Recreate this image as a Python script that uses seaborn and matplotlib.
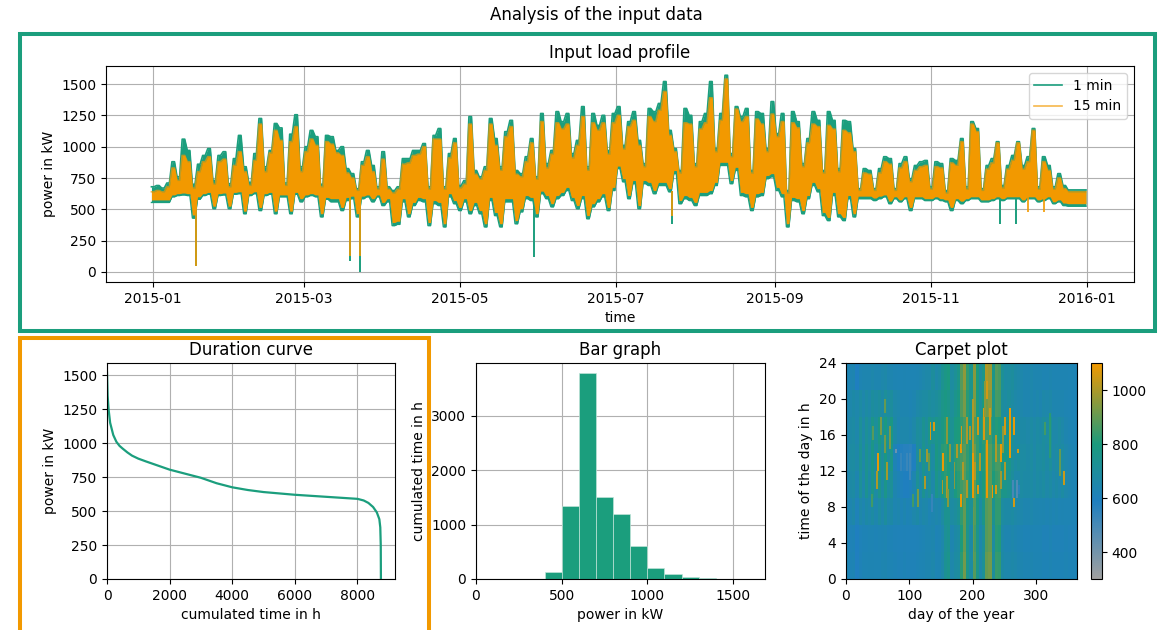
import numpy as np
import pandas as pd
import seaborn as sns
import matplotlib.pyplot as plt
import matplotlib.dates as mdates
from matplotlib.colors import LinearSegmentedColormap
from matplotlib.patches import Rectangle

TEAL = "#1b9e7d"
ORANGE = "#f29900"
W, H = 1163, 630

high_1min = [
    680, 690, 670, 710, 880, 760, 1060, 970, 700, 860, 930, 985, 730, 930, 960, 705, 905, 1090, 840, 715,
    945, 1225, 840, 970, 1185, 1150, 710, 1100, 1255, 840, 1000, 1130, 1080, 700, 1090, 1080,
    970, 1000, 825, 785, 665, 880, 970, 850, 680, 960, 680, 650, 680, 905, 905, 970, 970, 1025, 680, 1090,
    1145, 680, 945, 1065, 690, 730, 1240, 810, 760, 840, 1225, 1065, 840, 1120, 1210, 810,
    785, 920, 1065, 760, 1265, 865, 970, 1280, 1200, 1265, 945, 1050, 1320, 840, 1265, 1170, 1250, 970, 1265, 1320,
    1010, 1200, 1280, 1050, 865, 1305, 1280, 1345, 1520, 1130, 985, 810, 1305, 1250, 865, 1200,
    1265, 1520, 985, 1265, 1570, 945, 1320, 1240, 1305, 810, 1280, 1265, 985, 1360, 1105, 1265, 650, 1280, 1200, 865,
    1065, 1280, 1210, 810, 1280, 1210, 825, 1210, 1200, 985, 665, 825, 810, 665, 825, 920,
    905, 665, 865, 920, 745, 850, 880, 890, 680, 880, 865, 650, 905, 890, 1065, 680, 1200, 1145, 665, 850,
    905, 1040, 690, 850, 930, 1040, 850, 920, 1145, 680, 920, 850, 680, 785, 690, 655, 655, 655, 655,
]
low_1min = [
    555, 555, 555, 555, 600, 610, 615, 610, 430, 580, 610, 620, 505, 610, 615, 505, 620, 625, 465, 610,
    625, 490, 610, 620, 465, 600, 600, 465, 620, 560, 600, 610, 600, 440, 580, 560,
    560, 490, 570, 585, 440, 585, 600, 560, 600, 530, 560, 370, 380, 560, 440, 530, 570, 560, 370, 545,
    530, 360, 600, 545, 490, 560, 465, 530, 465, 360, 570, 450, 360, 560, 560, 385,
    480, 585, 570, 440, 625, 585, 520, 585, 610, 650, 570, 505, 585, 425, 520, 560, 600, 490, 650, 825,
    720, 585, 705, 505, 705, 690, 625, 690, 690, 640, 785, 545, 585, 570, 530, 610,
    610, 625, 690, 850, 850, 705, 810, 610, 600, 490, 600, 610, 745, 760, 650, 600, 360, 570, 560, 465,
    585, 690, 640, 450, 410, 610, 440, 410, 585, 440, 585, 585, 585, 570, 585, 600,
    545, 585, 560, 585, 490, 585, 585, 570, 570, 585, 570, 560, 490, 570, 545, 570, 585, 585, 560, 560,
    570, 585, 570, 585, 585, 585, 560, 585, 585, 560, 570, 585, 545, 560, 530, 525, 525, 525, 525,
]
high_15min = [
    640, 650, 640, 680, 830, 730, 930, 880, 670, 800, 880, 920, 700, 880, 900, 680, 850, 960, 800, 690,
    890, 1180, 800, 950, 1130, 1050, 690, 1040, 1160, 800, 960, 1060, 1010, 680, 1040, 1020,
    950, 930, 790, 750, 650, 850, 920, 800, 660, 900, 660, 630, 660, 860, 870, 930, 940, 1000, 660, 1060,
    1060, 660, 910, 1030, 670, 700, 1180, 780, 740, 810, 1180, 1010, 810, 1080, 1160, 780,
    760, 880, 1030, 740, 1200, 830, 940, 1190, 1140, 1180, 910, 1010, 1240, 810, 1190, 1130, 1190, 940, 1190, 1250,
    980, 1160, 1210, 1010, 840, 1240, 1200, 1290, 1440, 1090, 960, 790, 1190, 1180, 840, 1140,
    1190, 1390, 960, 1210, 1540, 920, 1300, 1200, 1240, 790, 1220, 1180, 960, 1260, 1080, 1200, 630, 1190, 1150, 840,
    1030, 1180, 1160, 790, 1170, 1140, 800, 1130, 1110, 960, 650, 790, 780, 650, 790, 880,
    860, 650, 830, 880, 720, 810, 840, 850, 660, 840, 830, 630, 870, 850, 1040, 660, 1180, 1120, 650, 820,
    870, 1030, 670, 820, 890, 1030, 820, 880, 1130, 660, 880, 810, 660, 750, 665, 640, 640, 640, 640,
]
low_15min = [
    575, 575, 575, 575, 615, 625, 630, 625, 455, 600, 625, 635, 525, 625, 630, 525, 635, 640, 485, 625,
    640, 515, 625, 635, 485, 615, 615, 485, 635, 585, 615, 625, 615, 465, 595, 585,
    585, 515, 595, 605, 465, 605, 615, 585, 615, 555, 585, 395, 405, 585, 465, 555, 595, 585, 395, 570,
    555, 385, 625, 570, 515, 585, 490, 555, 490, 385, 595, 475, 385, 585, 585, 410,
    505, 610, 595, 465, 645, 610, 545, 610, 635, 675, 595, 530, 610, 450, 545, 585, 625, 515, 675, 845,
    745, 610, 730, 530, 730, 715, 650, 715, 715, 665, 810, 570, 610, 595, 555, 635,
    635, 650, 715, 875, 875, 730, 835, 635, 625, 515, 625, 635, 770, 785, 675, 625, 385, 595, 585, 490,
    610, 715, 665, 475, 435, 635, 465, 435, 610, 465, 605, 605, 605, 590, 605, 615,
    565, 600, 575, 600, 515, 600, 600, 585, 585, 600, 585, 575, 515, 585, 565, 585, 600, 600, 575, 575,
    585, 600, 585, 600, 600, 600, 575, 600, 600, 575, 585, 600, 560, 575, 550, 545, 545, 545, 545,
]
# short drops that do not fit the two day sampling
dip_days_1min = [17, 77, 81, 149, 203, 331, 337]
dip_values_1min = [45, 85, 0, 120, 385, 380, 380]
dip_days_15min = [17, 77, 81, 203, 342, 348]
dip_values_15min = [45, 130, 130, 450, 480, 480]

# duration curve
duration_hours = [0, 20, 50, 100, 200, 300, 400, 500, 650, 800, 1000, 1250, 1500, 2000, 2500, 3000, 3500, 4000, 4500,
                  5000, 6000, 7000, 8000, 8200, 8350, 8500, 8620, 8700, 8730, 8745, 8750]
duration_power = [1520, 1350, 1250, 1150, 1060, 1010, 980, 960, 932, 908, 886, 865, 845, 805, 775, 745, 705, 675, 655,
                  640, 620, 605, 590, 578, 560, 530, 490, 440, 380, 250, 0]

# bar graph
bin_edges = [0, 100, 200, 300, 400, 500, 600, 700, 800, 900, 1000, 1100, 1200, 1300, 1400, 1500, 1600]
bin_hours = [1, 0, 0, 1, 122, 1342, 3780, 1507, 1188, 606, 196, 98, 37, 18, 4, 1]

# carpet plot, background: one row per 3 h of the day, one value per 5 days
carpet_0 = [625, 620, 625, 585, 615, 625, 625, 630, 630, 625, 625, 635, 640, 625, 625, 620, 615, 615, 620, 615,
            615, 615, 620, 625, 630, 640, 640, 650, 625, 630, 660, 730, 750, 650, 680, 690, 820, 920, 760, 680,
            880, 760, 660, 720, 900, 920, 700, 840, 830, 670, 650, 650, 660, 650, 640, 640, 630, 630, 640, 630,
            630, 630, 620, 620, 630, 620, 620, 620, 620, 625, 620, 620, 620]
carpet_3 = [620, 615, 620, 590, 610, 620, 620, 625, 625, 620, 625, 630, 635, 620, 620, 615, 610, 610, 615, 610,
            610, 610, 615, 620, 625, 635, 635, 645, 620, 625, 650, 720, 740, 640, 670, 680, 800, 900, 750, 670,
            860, 750, 650, 710, 880, 900, 690, 820, 810, 660, 640, 640, 650, 640, 630, 630, 620, 620, 630, 625,
            625, 625, 615, 615, 625, 615, 615, 615, 615, 620, 615, 615, 615]
carpet_6 = [630, 640, 660, 610, 660, 635, 670, 650, 680, 645, 690, 650, 700, 650, 670, 635, 645, 620, 640, 620,
            625, 650, 670, 640, 660, 650, 625, 640, 650, 640, 680, 740, 740, 680, 700, 730, 830, 900, 770, 720,
            880, 780, 680, 760, 880, 900, 740, 830, 830, 690, 670, 670, 680, 660, 650, 650, 640, 640, 650, 640,
            640, 635, 640, 630, 640, 625, 635, 625, 630, 625, 625, 620, 620]
carpet_9 = [640, 670, 680, 640, 720, 650, 740, 670, 760, 680, 750, 680, 760, 690, 720, 640, 620, 600, 590, 590,
            600, 640, 720, 660, 740, 680, 720, 660, 760, 710, 790, 820, 800, 720, 790, 820, 850, 880, 820, 770,
            900, 810, 730, 800, 880, 890, 800, 840, 850, 760, 760, 740, 700, 660, 660, 680, 670, 670, 680, 660,
            680, 670, 690, 660, 680, 650, 670, 650, 680, 650, 640, 630, 625]
carpet_12 = [640, 680, 690, 660, 730, 660, 740, 690, 770, 690, 760, 700, 780, 700, 760, 620, 590, 580, 570, 570,
             560, 590, 700, 670, 750, 700, 730, 680, 780, 740, 820, 830, 800, 740, 820, 840, 860, 890, 830, 780,
             910, 830, 760, 810, 900, 880, 820, 860, 860, 780, 780, 760, 710, 680, 700, 680, 680, 670, 690, 660,
             690, 680, 700, 670, 710, 660, 680, 670, 680, 650, 640, 630, 625]
carpet_15 = [640, 670, 680, 650, 720, 660, 720, 680, 760, 710, 780, 720, 790, 720, 780, 670, 640, 650, 650, 650,
             640, 660, 700, 690, 740, 700, 760, 730, 760, 740, 780, 810, 790, 730, 790, 800, 830, 860, 810, 760,
             860, 830, 750, 830, 850, 850, 770, 810, 790, 730, 740, 760, 720, 680, 680, 670, 670, 660, 680, 660,
             680, 670, 700, 680, 720, 660, 660, 680, 660, 640, 630, 625, 620]
carpet_18 = [640, 650, 670, 650, 680, 650, 680, 660, 700, 680, 700, 670, 710, 680, 700, 660, 650, 640, 640, 640,
             630, 640, 660, 670, 680, 680, 700, 690, 700, 720, 760, 780, 760, 710, 750, 780, 870, 930, 820, 750,
             940, 790, 710, 790, 920, 950, 760, 860, 850, 700, 680, 700, 680, 660, 650, 650, 640, 640, 650, 640,
             650, 640, 660, 650, 660, 640, 640, 640, 640, 630, 625, 620, 620]
carpet_21 = [630, 630, 640, 590, 630, 640, 640, 640, 650, 640, 640, 650, 660, 640, 640, 630, 625, 625, 630, 625,
             625, 625, 630, 640, 650, 660, 660, 700, 660, 680, 740, 770, 790, 690, 720, 760, 880, 960, 830, 750,
             950, 800, 700, 760, 1000, 980, 760, 880, 860, 720, 680, 690, 700, 670, 660, 650, 640, 640, 650, 640,
             640, 640, 630, 630, 640, 630, 630, 630, 630, 630, 625, 625, 620]

# narrow streaks on top of that background
streak_days = [47, 49, 60, 54, 68, 60, 63, 41, 40, 132, 138, 126, 124, 112, 105, 115, 130,
               152, 158, 158, 151, 163, 170, 174, 180, 180, 183, 190, 190, 181, 194, 199, 199, 200, 207, 207,
               216, 222, 222, 230, 236, 243, 243, 250, 250, 258, 264, 264, 270, 313, 321, 337, 343,
               160, 210, 226, 236, 246, 203, 218, 78, 95, 100, 85, 134, 262, 268, 272]
streak_from = [10.4, 12.3, 18.6, 16, 14.5, 14, 11, 15.5, 8, 15.6, 16.5, 13, 10, 8, 8, 13, 12,
               12.3, 15, 9, 9.5, 13, 10, 13.5, 14, 8, 11, 15, 9, 14.5, 15.5, 9, 14, 2, 16, 9.5,
               15.6, 9.3, 20, 9, 9.7, 13, 10, 16, 11.3, 13.5, 16, 8, 14, 16, 13.5, 11.5, 10.6,
               8, 12, 16, 13, 14, 11, 18, 14.3, 12, 11, 12, 7.5, 9, 9, 9.5]
streak_to = [12, 14.1, 20.4, 18, 17, 16, 13, 17, 9.5, 17.5, 17.5, 14.5, 11.5, 10.4, 9.5, 14.5, 14,
             14.3, 18, 11.5, 11, 15, 13, 15, 15, 9.5, 13, 18, 11, 17, 17, 14, 20, 8, 18, 10.5,
             19, 15.6, 22, 10.8, 10.8, 15, 12, 18, 13, 19, 18, 9.3, 14.5, 17.5, 18.5, 14.7, 12,
             10, 14, 19, 16, 17, 13, 22, 14.8, 14, 14, 14, 9.6, 11, 11, 10.5]
streak_power = [1000, 1080, 900, 930, 930, 920, 990, 880, 850, 1060, 1060, 980, 1000, 930, 850, 900, 900,
                1090, 950, 1000, 1000, 950, 950, 1000, 1090, 1090, 1000, 1000, 1000, 1050, 1000, 1090, 1000, 900, 1050, 1060,
                1060, 1090, 1050, 1090, 1060, 1090, 980, 1050, 1000, 1090, 1080, 1050, 1050, 850, 820, 900, 1040,
                950, 1000, 1050, 1000, 950, 1000, 950, 420, 530, 520, 540, 540, 500, 480, 560]

day_ticks = [0, 100, 200, 300]
hour_ticks = [0, 4, 8, 12, 16, 20, 24]


def px_axes(fig, left, top, right, bottom):
    return fig.add_axes([left / W, 1 - bottom / H, (right - left) / W, (bottom - top) / H])


def band_edge(values):
    # each reading holds for one day, so neighbours join with a steep flank
    return np.repeat(values, 2)


fig = plt.figure(figsize=(W / 100, H / 100), dpi=100)
fig.text(596 / W, 1 - 15 / H, "Analysis of the input data", ha="center", va="center", fontsize=12)

# frames around the first two plots
fig.add_artist(Rectangle((20 / W, 1 - 331 / H), 1135 / W, 297 / H, transform=fig.transFigure,
                         fill=False, edgecolor=TEAL, linewidth=2.9))
fig.add_artist(Rectangle((20 / W, 1 - 650 / H), 409 / W, 312 / H, transform=fig.transFigure,
                         fill=False, edgecolor=ORANGE, linewidth=2.9))

# load profile
ax = px_axes(fig, 106, 66, 1134, 282)
dates = pd.date_range("2015-01-01", periods=len(high_1min), freq="2D")
edge_dates = pd.DatetimeIndex(np.column_stack([dates - pd.Timedelta(hours=12),
                                               dates + pd.Timedelta(hours=12)]).ravel())
ax.fill_between(edge_dates, band_edge(low_1min), band_edge(high_1min), color=TEAL, linewidth=0, zorder=2)
sns.lineplot(x=edge_dates, y=band_edge(high_1min), ax=ax, color=TEAL, linewidth=1.2, estimator=None, label="1 min")
sns.lineplot(x=edge_dates, y=band_edge(low_1min), ax=ax, color=TEAL, linewidth=1, estimator=None)
ax.vlines(pd.Timestamp("2015-01-01") + pd.to_timedelta(dip_days_1min, unit="D"), dip_values_1min, 650,
          color=TEAL, linewidth=1.4, zorder=2)
ax.fill_between(edge_dates, band_edge(low_15min), band_edge(high_15min), color=ORANGE, linewidth=0, zorder=2.2)
sns.lineplot(x=edge_dates, y=band_edge(high_15min), ax=ax, color=ORANGE, linewidth=1.2, alpha=0.7, estimator=None,
             label="15 min", zorder=2.3)
ax.vlines(pd.Timestamp("2015-01-01") + pd.to_timedelta(dip_days_15min, unit="D"), dip_values_15min, 650,
          color=ORANGE, linewidth=1.2, zorder=2.2)
ax.set_xlim(pd.Timestamp("2014-12-13 18:00"), pd.Timestamp("2016-01-19 06:00"))
ax.set_ylim(-80, 1644)
ax.xaxis.set_major_locator(mdates.MonthLocator(interval=2))
ax.xaxis.set_major_formatter(mdates.DateFormatter("%Y-%m"))
ax.set_title("Input load profile")
ax.set_xlabel("time")
ax.set_ylabel("power in kW")
ax.grid(True)
ax.legend(loc="upper right")

# duration curve
ax = px_axes(fig, 107, 363, 395, 579)
sns.lineplot(x=duration_hours, y=duration_power, ax=ax, color=TEAL, linewidth=1.6, estimator=None, sort=False)
ax.set_xlim(0, 9200)
ax.set_ylim(0, 1590)
ax.set_yticks([0, 250, 500, 750, 1000, 1250, 1500])
ax.set_title("Duration curve")
ax.set_xlabel("cumulated time in h")
ax.set_ylabel("power in kW")
ax.grid(True)

# bar graph
ax = px_axes(fig, 476, 363, 765, 579)
centers = [(a + b) / 2 for a, b in zip(bin_edges[:-1], bin_edges[1:])]
sns.histplot(x=centers, weights=bin_hours, bins=bin_edges, ax=ax, color=TEAL, alpha=1,
             edgecolor="#bfe3d8", linewidth=0.5)
ax.set_xlim(0, 1687)
ax.set_ylim(0, 3970)
ax.set_xticks([0, 500, 1000, 1500])
ax.set_yticks([0, 1000, 2000, 3000])
ax.set_title("Bar graph")
ax.set_xlabel("power in kW")
ax.set_ylabel("cumulated time in h")
ax.set_axisbelow(True)
ax.grid(True)

# carpet plot
ax = px_axes(fig, 846, 363, 1077, 579)
cax = px_axes(fig, 1091, 363, 1102, 579)
carpet_cmap = LinearSegmentedColormap.from_list(
    "carpet", [(0, "#a0a0a0"), (0.36, "#1f7fbf"), (0.625, "#1b9a7d"), (1, ORANGE)])
background = np.array([carpet_0, carpet_3, carpet_6, carpet_9, carpet_12, carpet_15, carpet_18, carpet_21])
carpet = np.repeat(np.repeat(background, 6, axis=0), 5, axis=1)  # half hour x day grid
for day, start, stop, power in zip(streak_days, streak_from, streak_to, streak_power):
    carpet[int(start * 2):int(stop * 2), day:day + 3] = power
sns.heatmap(carpet, ax=ax, cbar_ax=cax, cmap=carpet_cmap, vmin=300, vmax=1100,
            xticklabels=False, yticklabels=False)
ax.set_ylim(0, carpet.shape[0])
ax.set_xticks(day_ticks, [str(d) for d in day_ticks], rotation=0)
ax.set_yticks([h * 2 for h in hour_ticks], [str(h) for h in hour_ticks], rotation=0)
ax.tick_params(left=True, bottom=True)
for spine in ax.spines.values():
    spine.set_visible(True)
ax.set_title("Carpet plot")
ax.set_xlabel("day of the year")
ax.set_ylabel("time of the day in h")
cbar = ax.collections[0].colorbar
cbar.set_ticks([400, 600, 800, 1000])
cbar.outline.set_visible(True)
cbar.outline.set_linewidth(0.8)

fig.savefig("out.png", dpi=100)
